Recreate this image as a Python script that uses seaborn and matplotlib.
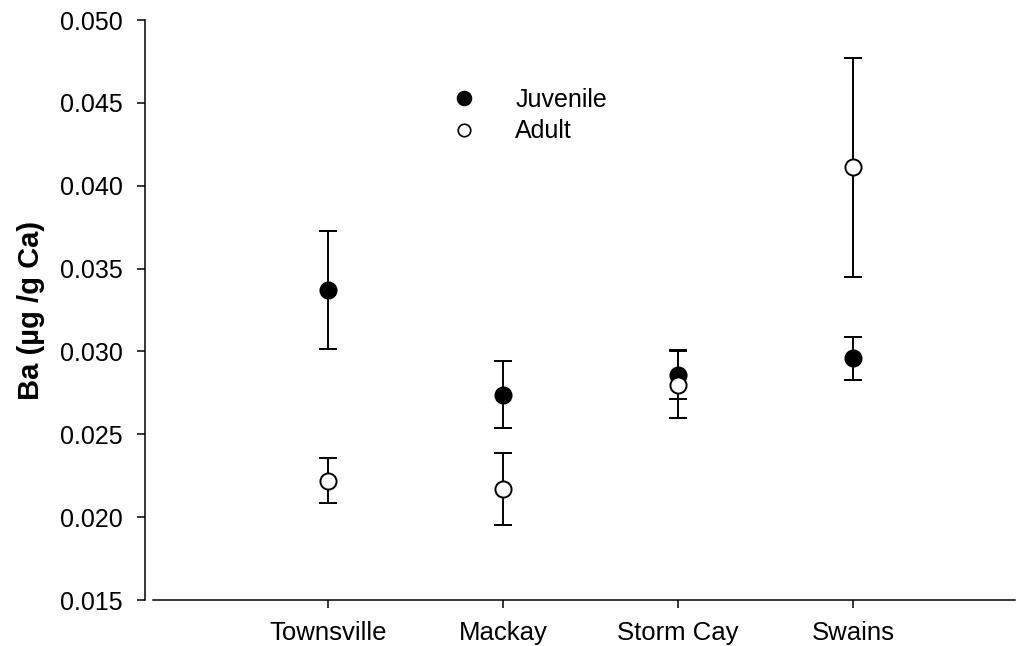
import pandas as pd
import matplotlib
matplotlib.use('Agg')
import matplotlib.pyplot as plt
from matplotlib.lines import Line2D
import seaborn as sns

# --- DATA ---
sites = ['Townsville', 'Mackay', 'Storm Cay', 'Swains']
juvenile_mean = [0.0337, 0.0274, 0.0286, 0.0296]
juvenile_err = [0.00355, 0.00205, 0.0015, 0.0013]
adult_mean = [0.0222, 0.0217, 0.0280, 0.0411]
adult_err = [0.00135, 0.00215, 0.0020, 0.0066]

df = pd.DataFrame({
    'site': sites * 2,
    'stage': ['Juvenile'] * 4 + ['Adult'] * 4,
    'ba': juvenile_mean + adult_mean,
    'err': juvenile_err + adult_err,
})

sns.set_style('ticks')
plt.rcParams['font.family'] = ['Liberation Sans', 'DejaVu Sans']
plt.rcParams.update({'text.color': 'black', 'axes.labelcolor': 'black',
                     'xtick.color': 'black', 'ytick.color': 'black'})

fig = plt.figure(figsize=(10.19, 6.46), dpi=100)
ax = fig.add_axes([153 / 1019, 1 - 600 / 646, 862 / 1019, 580 / 646])

# points through seaborn (categorical x -> 0..3)
styles = {'Juvenile': 'black', 'Adult': 'white'}
for stage in ['Juvenile', 'Adult']:
    sub = df[df['stage'] == stage]
    sns.scatterplot(data=sub, x='site', y='ba', ax=ax, s=135, color=styles[stage],
                    edgecolor='black', linewidth=1.4, zorder=3, legend=False)
    ax.errorbar(x=range(len(sub)), y=sub['ba'], yerr=sub['err'], fmt='none',
                ecolor='black', elinewidth=1.4, capsize=6.8, capthick=1.4, zorder=2)

ax.set_xlim(-1.0, 3.926)
ax.set_ylim(0.015, 0.050)
ax.set_yticks([0.015, 0.020, 0.025, 0.030, 0.035, 0.040, 0.045, 0.050])
ax.set_yticklabels([f'{v:.3f}' for v in ax.get_yticks()])
ax.set_xticks(range(len(sites)))
ax.set_xticklabels(sites)
ax.set_xlabel('')
ax.set_ylabel('Ba (µg /g Ca)', fontsize=21, fontweight='bold', labelpad=11)

ax.tick_params(axis='both', labelsize=18, length=6, width=1.1, color='black',
               labelcolor='black', direction='out')
ax.tick_params(axis='y', pad=10)
ax.tick_params(axis='x', pad=9, labelsize=18.5)
for s in ['top', 'right']:
    ax.spines[s].set_visible(False)
for s in ['left', 'bottom']:
    ax.spines[s].set_linewidth(1.1)
    ax.spines[s].set_color('black')
ax.spines['left'].set_position(('outward', 5.8))

handles = [
    Line2D([], [], marker='o', linestyle='none', markersize=10,
           markerfacecolor='black', markeredgecolor='black', markeredgewidth=1.2),
    Line2D([], [], marker='o', linestyle='none', markersize=9,
           markerfacecolor='white', markeredgecolor='black', markeredgewidth=1.2),
]
ax.legend(handles, ['Juvenile', 'Adult'], frameon=False, loc='upper left',
          bbox_to_anchor=(0.32, 0.90), fontsize=18, handletextpad=1.05,
          labelspacing=0.3, borderaxespad=0)

fig.savefig('out.png', dpi=100)
